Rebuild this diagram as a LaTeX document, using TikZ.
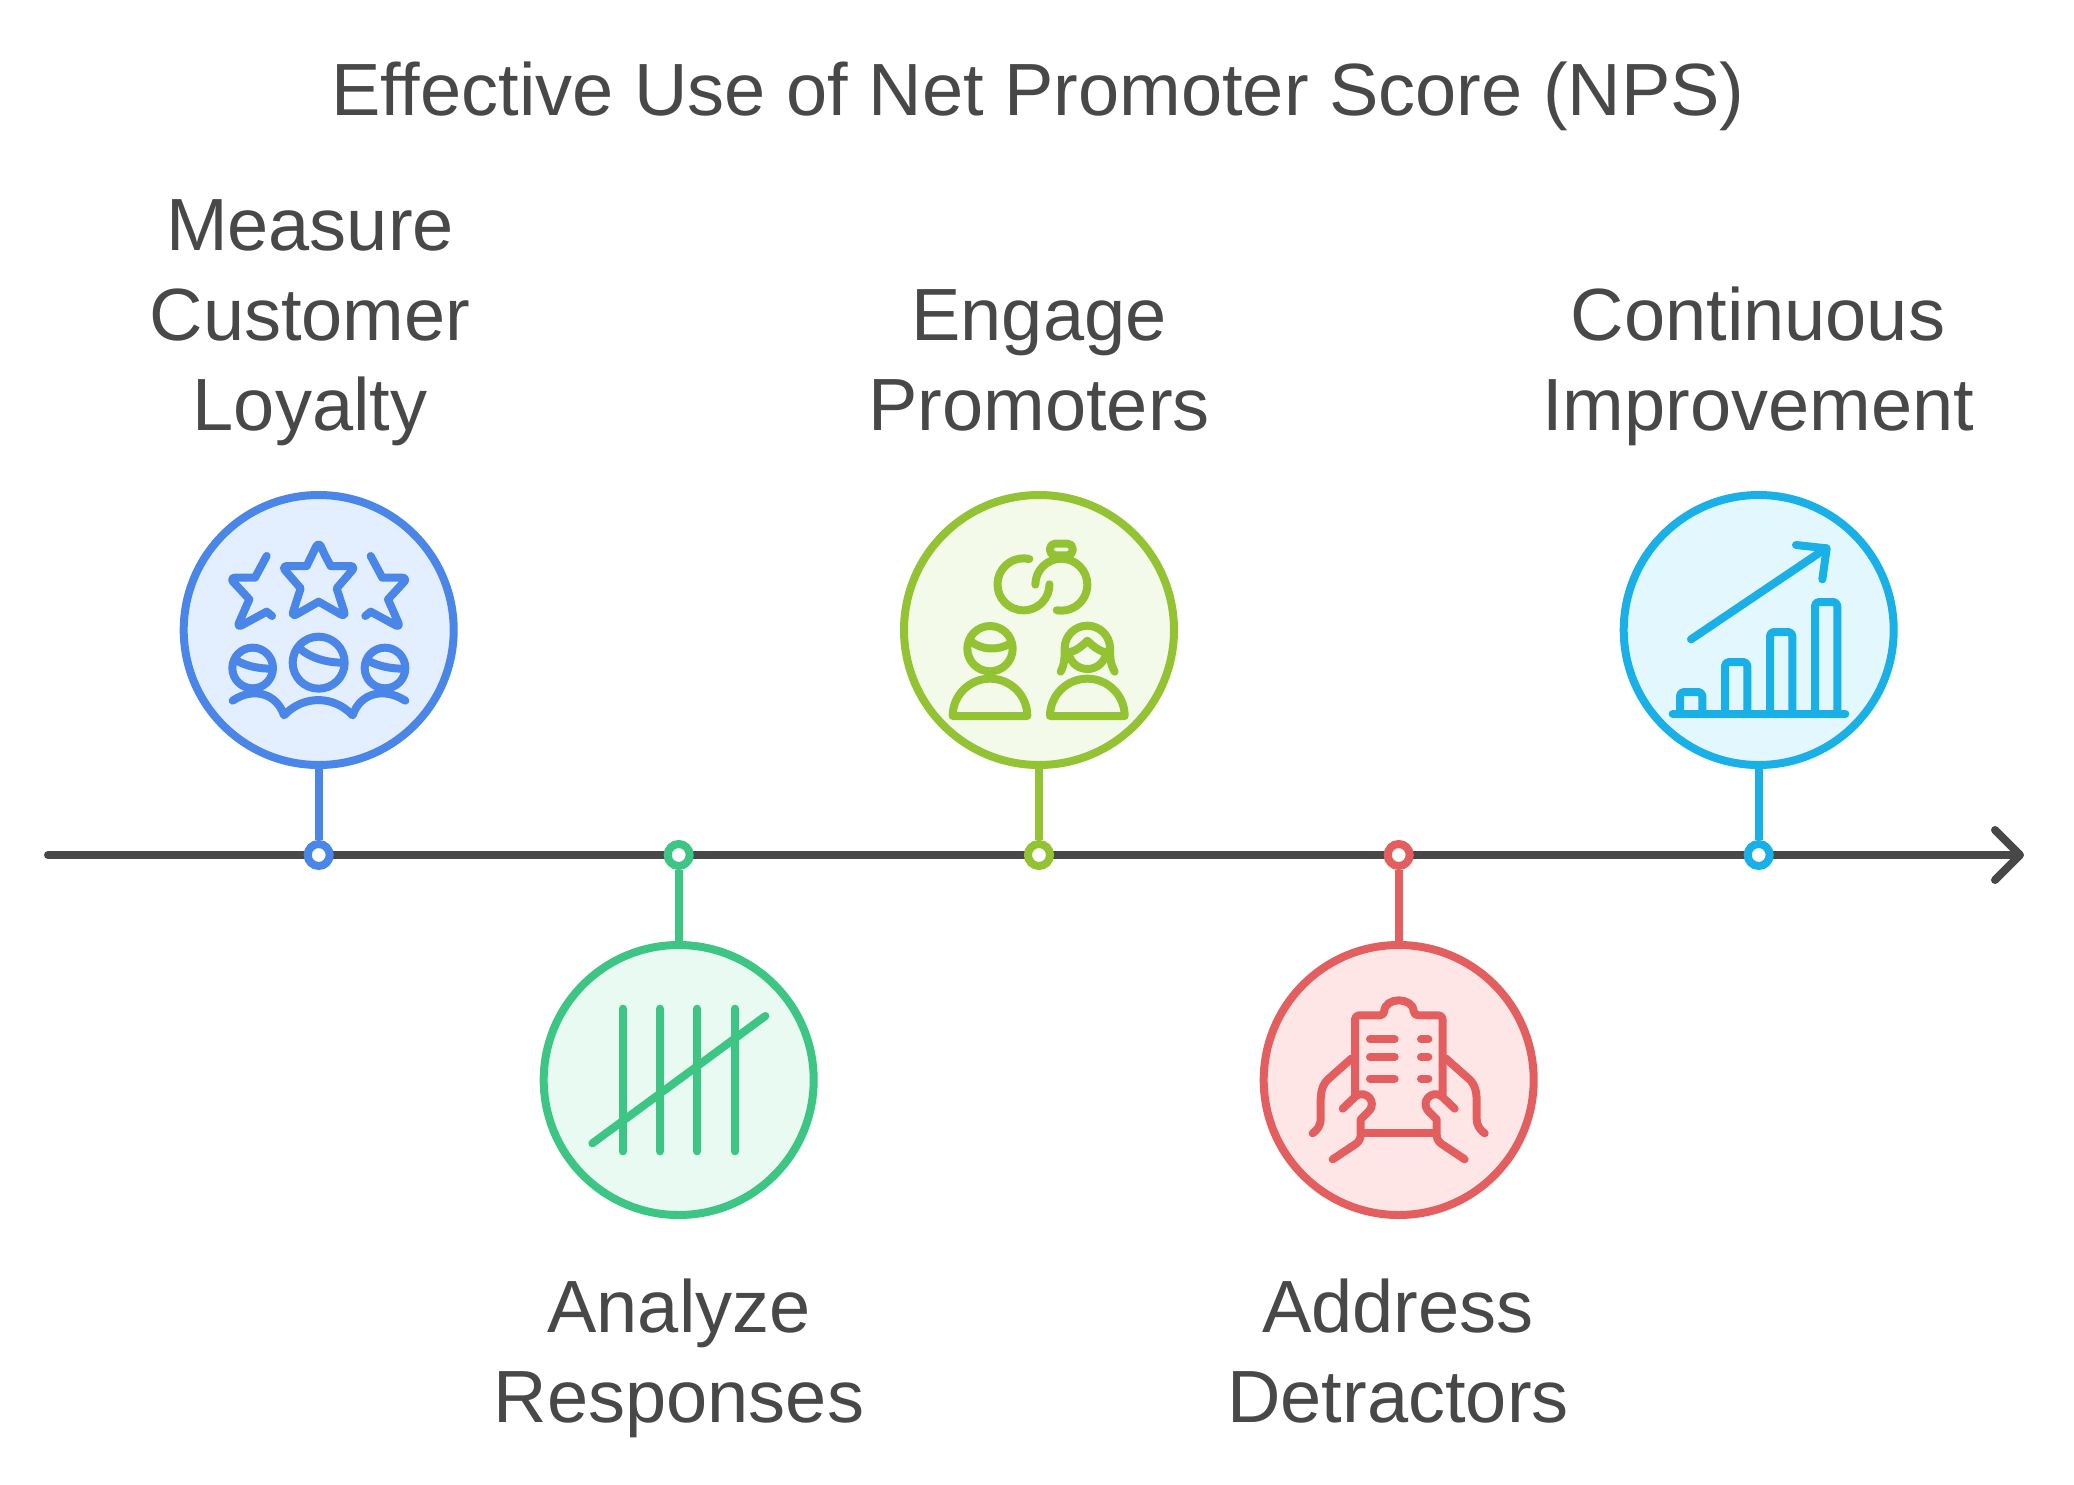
\documentclass[tikz,border=0pt]{standalone}
\usepackage{fontspec}
\setmainfont{Liberation Sans}
\usetikzlibrary{arrows.meta}
\definecolor{inkgray}{HTML}{484848}
\definecolor{bluedraw}{HTML}{4A86E8}
\definecolor{bluefill}{HTML}{E3EEFF}
\definecolor{greendraw}{HTML}{3CC583}
\definecolor{greenfill}{HTML}{E8FAF2}
\definecolor{limedraw}{HTML}{93C332}
\definecolor{limefill}{HTML}{F3FAE9}
\definecolor{reddraw}{HTML}{E35F5F}
\definecolor{redfill}{HTML}{FFE6E6}
\definecolor{cyandraw}{HTML}{18B0E6}
\definecolor{cyanfill}{HTML}{E3F7FF}
\tikzset{
  iconline/.style={line width=8pt, line cap=round, line join=round},
  bigcircle/.style={circle, draw=#1draw, fill=#1fill, line width=8pt, inner sep=0pt, minimum size=270pt},
  smalldot/.style={circle, draw=#1draw, fill=white, line width=8pt, inner sep=0pt, minimum size=22pt},
  stem/.style={draw=#1draw, line width=8pt},
  label/.style={text=inkgray, align=center, font=\fontsize{74}{90}\selectfont},
  tip/.style={rounded corners=6pt},
}
\tikzset{stars/.pic={code={%
      % three stars
      \draw [iconline] (464,224) -- (482,258) [tip] -- (558,258) [sharp corners] -- (500,325) [tip] -- (528,412) [sharp corners] -- (446,365) [tip] -- (364,412) [sharp corners] -- (392,325) [tip] -- (334,258) [sharp corners] -- (410,258) [tip] -- (446,184) [sharp corners] -- (464,224);
      \draw [iconline] (290,228) -- (255,293) [tip] -- (178,293) [sharp corners] -- (238,358) [tip] -- (200,444) [sharp corners] -- (290,395) -- (306,408);
      \draw [iconline] (602,228) -- (637,293) [tip] -- (714,293) [sharp corners] -- (654,358) [tip] -- (692,444) [sharp corners] -- (602,395) -- (586,408);
      % three heads
      \draw [iconline] (446,548) circle (78);
      \draw [iconline] (248,564) circle (61);
      \draw [iconline] (645,564) circle (61);
      \draw [iconline] (392,508) .. controls (425,535) and (470,548) .. (520,548);
      \draw [iconline] (202,543) .. controls (230,558) and (265,566) .. (304,566);
      \draw [iconline] (596,543) .. controls (625,558) and (660,566) .. (700,566);
      % shoulders
      \draw [iconline] (188,662) .. controls (250,620) and (320,640) .. (342,706) .. controls (400,645) and (490,645) .. (548,706) .. controls (570,640) and (640,620) .. (706,662);
}}}
\tikzset{tally/.pic={code={%
      \foreach \x in {278,390,502,615}
        \draw [iconline] (\x,236) -- (\x,664);
      \draw [iconline] (187,640) -- (706,258);
}}}
\tikzset{duo/.pic={code={%
      % rings
      \draw [iconline] (418,237) arc [start angle=-77, end angle=-360, radius=78];
      \draw [iconline] (436,314) arc [start angle=180, end angle=460, radius=78];
      \draw [iconline, rounded corners=5pt] (480,191) rectangle (548,226);
      % man
      \draw [iconline] (300,506) circle (68);
      \draw [iconline] (240,482) .. controls (275,512) and (325,512) .. (362,490);
      \draw [iconline] (188,708) arc [start angle=180, end angle=360, radius=112] -- cycle;
      % woman
      \draw [iconline] (512,575) .. controls (525,550) and (524,530) .. (524,505) arc [start angle=180, end angle=360, radius=68] .. controls (660,530) and (660,550) .. (674,575);
      \draw [iconline] (532,518) .. controls (555,515) and (575,500) .. (592,482) .. controls (610,500) and (630,515) .. (652,518);
      \draw [iconline] (536,520) arc [start angle=170, end angle=10, radius=57];
      \draw [iconline] (480,708) arc [start angle=180, end angle=360, radius=112] -- cycle;
}}}
\tikzset{clipboard/.pic={code={%
      % sheet
      \draw [iconline, rounded corners=4pt] (315,495) -- (315,256) -- (402,256) .. controls (405,200) and (488,200) .. (492,256) -- (578,256) -- (578,495);
      \draw [iconline] (340,608) -- (552,608);
      \foreach \y in {328,381,446} {
        \draw [iconline] (360,\y) -- (434,\y);
        \draw [iconline] (513,\y) -- (535,\y);
      }
      % hands
      \foreach \s/\c in {1/0,-1/892} {
        \begin{scope}[shift={(\c,0)}, xscale=\s]
        \draw [iconline] (305,385) -- (235,447) .. controls (215,465) and (212,490) .. (212,515) -- (212,565) .. controls (212,590) and (200,600) .. (188,610);
        \draw [iconline] (278,536) -- (318,498) .. controls (345,478) and (385,515) .. (355,545) -- (332,568) -- (332,612) .. controls (332,635) and (320,640) .. (305,650) -- (248,688);
        \end{scope}
      }
}}}
\tikzset{growth/.pic={code={%
      \draw [iconline] (188,702) -- (706,702);
      \foreach \l/\t in {210/636,345/546,480/456,615/366}
        \draw [iconline, rounded corners=4pt] (\l,702) -- (\l,\t) -- (\l+67,\t) -- (\l+67,702);
      \draw [iconline] (243,478) -- (648,205);
      \draw [iconline] (558,195) -- (650,205) -- (637,298);
}}}

\begin{document}
\begin{tikzpicture}[x=1pt, y=-1pt]
    \useasboundingbox [fill=white] (0,0) rectangle (2074,1485);

    % axis
    \coordinate (start) at (48,855);
    \coordinate (end) at (2024,855);
    \draw [inkgray, line width=8pt, line cap=round, -{Straight Barb[length=25pt, width=50pt, round]}] (start) -- (end);

    % circles and dots
    \foreach \name/\col/\x/\y in {measure/blue/318.7/630, analyze/green/678.7/1080, engage/lime/1039/630, address/red/1398.7/1080, improve/cyan/1758.7/630} {
      \node [smalldot=\col] (\name dot) at (\x,855) {};
      \node [bigcircle=\col] (\name) at (\x,\y) {};
      \draw [stem=\col] (\name) -- (\name dot);
    }

    % icons
    \path (170,480) pic [scale=1/3, color=bluedraw] {stars};
    \path (530,930) pic [scale=1/3, color=greendraw] {tally};
    \path (890,480) pic [scale=1/3, color=limedraw] {duo};
    \path (1250,930) pic [scale=1/3, color=reddraw] {clipboard};
    \path (1610,480) pic [scale=1/3, color=cyandraw] {growth};

    % add labels
    \node [label] (title) at (1038,96) {Effective Use of Net Promoter Score (NPS)};
    \node [label, anchor=south] (measuretext) at (310,449) {Measure\\Customer\\Loyalty};
    \node [label, anchor=south] (engagetext) at (1039,435) {Engage\\Promoters};
    \node [label, anchor=south] (improvetext) at (1758,449) {Continuous\\Improvement};
    \node [label, anchor=north] (analyzetext) at (679,1275) {Analyze\\Responses};
    \node [label, anchor=north] (addresstext) at (1398,1275) {Address\\Detractors};
\end{tikzpicture}
\end{document}
